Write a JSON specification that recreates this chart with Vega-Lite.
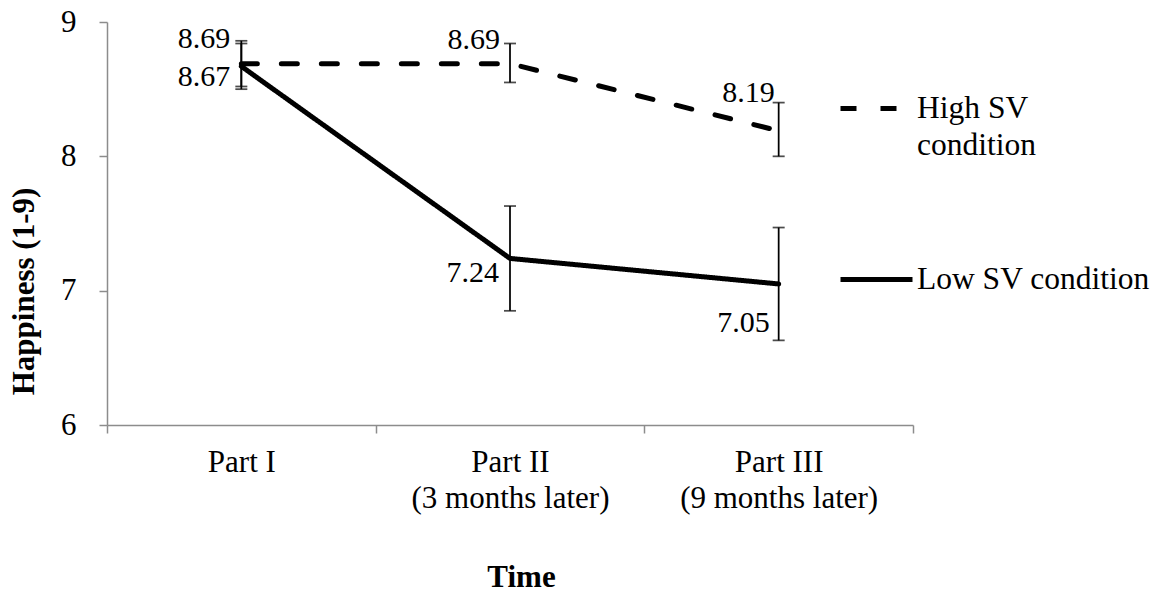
{
  "$schema": "https://vega.github.io/schema/vega-lite/v6.json",
  "width": 806,
  "height": 403,
  "autosize": {"type": "none"},
  "padding": {"left": 107, "top": 22, "right": 245, "bottom": 167},
  "background": "white",
  "config": {
    "view": {"stroke": null},
    "font": "Liberation Serif",
    "axis": {
      "domainColor": "#8c8c8c",
      "tickColor": "#8c8c8c",
      "domainWidth": 1.5,
      "tickWidth": 1.5,
      "grid": false,
      "labelFont": "Liberation Serif",
      "labelColor": "black",
      "titleFont": "Liberation Serif",
      "titleColor": "black"
    }
  },
  "data": {
    "values": [
      {"time": "Part I", "condition": "High SV condition", "mean": 8.69, "lo": 8.52, "hi": 8.86},
      {"time": "Part II (3 months later)", "condition": "High SV condition", "mean": 8.69, "lo": 8.55, "hi": 8.84},
      {"time": "Part III (9 months later)", "condition": "High SV condition", "mean": 8.19, "lo": 8.0, "hi": 8.4},
      {"time": "Part I", "condition": "Low SV condition", "mean": 8.67, "lo": 8.5, "hi": 8.84},
      {"time": "Part II (3 months later)", "condition": "Low SV condition", "mean": 7.24, "lo": 6.85, "hi": 7.63},
      {"time": "Part III (9 months later)", "condition": "Low SV condition", "mean": 7.05, "lo": 6.63, "hi": 7.47}
    ]
  },
  "encoding": {
    "x": {
      "field": "time",
      "type": "nominal",
      "sort": ["Part I", "Part II (3 months later)", "Part III (9 months later)"],
      "scale": {"paddingInner": 0, "paddingOuter": 0},
      "axis": {
        "title": "Time",
        "labelAngle": 0,
        "labelFontSize": 31,
        "labelLineHeight": 36,
        "labelPadding": 14,
        "labelLimit": 400,
        "labelBaseline": "top",
        "labelExpr": "split(replace(datum.label, ' (', '|('), '|')",
        "tickBand": "extent",
        "tickSize": 8,
        "titleFontSize": 31,
        "titleFontWeight": "bold",
        "titleX": 414,
        "titleY": 161,
        "titleAlign": "center",
        "titleBaseline": "alphabetic",
        "titleAnchor": null
      }
    }
  },
  "layer": [
    {
      "mark": {"type": "rule", "color": "black", "strokeWidth": 1.75},
      "encoding": {
        "y": {
          "field": "lo",
          "type": "quantitative",
          "scale": {"domain": [6, 9], "nice": false, "zero": false},
          "axis": {
            "title": "Happiness (1-9)",
            "values": [6, 7, 8, 9],
            "format": "d",
            "labelFontSize": 31,
            "labelPadding": 23,
            "tickSize": 8,
            "titleFontSize": 31,
            "titleFontWeight": "bold",
            "titleAngle": -90,
            "titleX": -67,
            "titleY": 269,
            "titleAlign": "center",
            "titleBaseline": "bottom"
          }
        },
        "y2": {"field": "hi"}
      }
    },
    {
      "mark": {"type": "tick", "orient": "horizontal", "size": 12, "thickness": 1.75, "color": "black"},
      "encoding": {"y": {"field": "lo", "type": "quantitative"}}
    },
    {
      "mark": {"type": "tick", "orient": "horizontal", "size": 12, "thickness": 1.75, "color": "black"},
      "encoding": {"y": {"field": "hi", "type": "quantitative"}}
    },
    {
      "mark": {"type": "line", "color": "black", "strokeWidth": 5, "strokeCap": "round"},
      "encoding": {
        "y": {"field": "mean", "type": "quantitative"},
        "strokeDash": {
          "field": "condition",
          "type": "nominal",
          "scale": {"domain": ["High SV condition", "Low SV condition"], "range": [[16, 24], [1, 0]]},
          "legend": {
            "orient": "none",
            "legendX": 731,
            "legendY": 48,
            "title": null,
            "padding": 0,
            "symbolType": "stroke",
            "symbolSize": 5184,
            "symbolStrokeWidth": 5,
            "symbolStrokeColor": "black",
            "labelFont": "Liberation Serif",
            "labelFontSize": 31.5,
            "labelColor": "black",
            "labelOffset": 2,
            "labelLimit": 400,
            "rowPadding": 80,
            "labelExpr": "datum.label == 'High SV condition' ? ['High SV', 'condition'] : datum.label",
            "encode": {"labels": {"update": {"lineHeight": {"value": 37}}}}
          }
        }
      }
    },
    {
      "transform": [{"filter": "datum.time == 'Part I' && datum.condition == 'High SV condition'"}],
      "mark": {"type": "text", "align": "right", "baseline": "middle", "dx": -11, "dy": -25, "fontSize": 30, "color": "black"},
      "encoding": {"y": {"field": "mean", "type": "quantitative"}, "text": {"field": "mean", "type": "quantitative", "format": ".2f"}}
    },
    {
      "transform": [{"filter": "datum.time == 'Part I' && datum.condition == 'Low SV condition'"}],
      "mark": {"type": "text", "align": "right", "baseline": "middle", "dx": -11, "dy": 11, "fontSize": 30, "color": "black"},
      "encoding": {"y": {"field": "mean", "type": "quantitative"}, "text": {"field": "mean", "type": "quantitative", "format": ".2f"}}
    },
    {
      "transform": [{"filter": "datum.time == 'Part II (3 months later)' && datum.condition == 'High SV condition'"}],
      "mark": {"type": "text", "align": "right", "baseline": "middle", "dx": -10, "dy": -24, "fontSize": 30, "color": "black"},
      "encoding": {"y": {"field": "mean", "type": "quantitative"}, "text": {"field": "mean", "type": "quantitative", "format": ".2f"}}
    },
    {
      "transform": [{"filter": "datum.time == 'Part II (3 months later)' && datum.condition == 'Low SV condition'"}],
      "mark": {"type": "text", "align": "right", "baseline": "middle", "dx": -11, "dy": 15, "fontSize": 30, "color": "black"},
      "encoding": {"y": {"field": "mean", "type": "quantitative"}, "text": {"field": "mean", "type": "quantitative", "format": ".2f"}}
    },
    {
      "transform": [{"filter": "datum.time == 'Part III (9 months later)' && datum.condition == 'High SV condition'"}],
      "mark": {"type": "text", "align": "right", "baseline": "middle", "dx": -4, "dy": -38, "fontSize": 30, "color": "black"},
      "encoding": {"y": {"field": "mean", "type": "quantitative"}, "text": {"field": "mean", "type": "quantitative", "format": ".2f"}}
    },
    {
      "transform": [{"filter": "datum.time == 'Part III (9 months later)' && datum.condition == 'Low SV condition'"}],
      "mark": {"type": "text", "align": "right", "baseline": "middle", "dx": -9, "dy": 39, "fontSize": 30, "color": "black"},
      "encoding": {"y": {"field": "mean", "type": "quantitative"}, "text": {"field": "mean", "type": "quantitative", "format": ".2f"}}
    }
  ]
}
